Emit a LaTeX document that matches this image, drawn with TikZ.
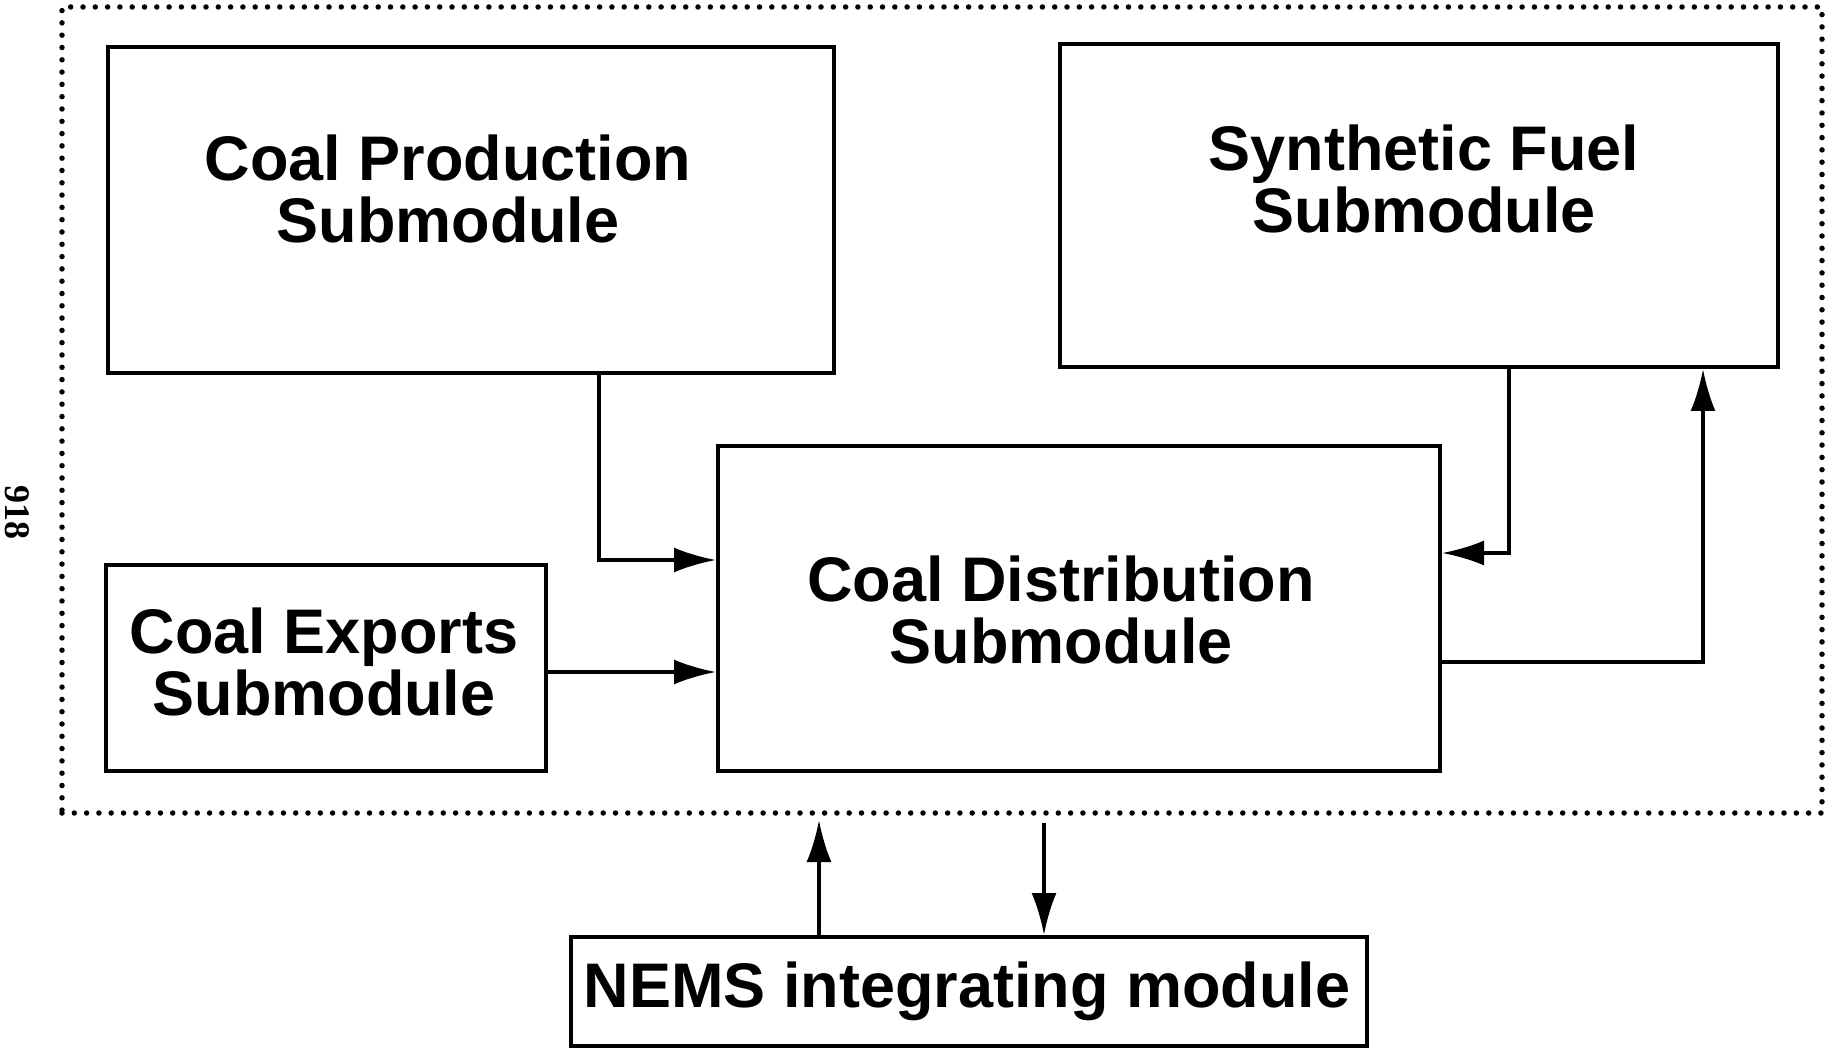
\documentclass[tikz,border=0pt]{standalone}
\usepackage{fontspec}
\setmainfont{Liberation Sans}
\newfontfamily\pagenumfont{Liberation Serif}
\usetikzlibrary{arrows.meta}
\begin{document}
\begin{tikzpicture}[x=1pt,y=-1pt,
  box/.style={draw, line width=4pt, inner sep=0pt},
  lbl/.style={font=\fontsize{63}{62}\selectfont\bfseries, align=center, inner sep=0pt},
  conn/.style={line width=3.5pt},
  arr/.style={conn, -{Latex[length=42pt,width=25pt]}},
  dotframe/.style={draw, line width=5.5pt, line cap=round, dash pattern=on 0pt off 12.3pt, inner sep=0pt}]
\useasboundingbox (0,0) rectangle (1826,1048);
% outer dotted frame
\node[dotframe, minimum width=1760pt, minimum height=806pt] (frame) at (942,410) {};
% page number
\node[font=\pagenumfont\bfseries\fontsize{36}{36}\selectfont, rotate=-90, inner sep=0pt] (pagenum) at (17,512) {918};
% boxes
\node[box, minimum width=726pt, minimum height=326pt] (prod) at (471,210) {};
\node[box, minimum width=718pt, minimum height=323pt] (syn) at (1419,205.5) {};
\node[box, minimum width=722pt, minimum height=325pt] (dist) at (1079,608.5) {};
\node[box, minimum width=440pt, minimum height=206pt] (exp) at (326,668) {};
\node[box, minimum width=796pt, minimum height=109pt] (nems) at (969,991.5) {};
% labels
\node[lbl] (prodt) at (448,188.5) {Coal Production\\Submodule};
\node[lbl] (synt) at (1424,178.5) {Synthetic Fuel\\Submodule};
\node[lbl] (distt) at (1061,610) {Coal Distribution\\Submodule};
\node[lbl] (expt) at (324,661.5) {Coal Exports\\Submodule};
\node[lbl, anchor=base] (nemst) at (967,1007) {NEMS integrating module};
% connectors
\coordinate (c1) at (599,560);
\coordinate (c2) at (0,672);
\coordinate (c3) at (1509,553);
\coordinate (c4) at (1703,662);
\coordinate (c5) at (819,820);
\coordinate (c6) at (1044,823);
\draw[arr] (prod.south -| c1) |- (dist.west |- c1);
\draw[arr] (exp.east |- c2) -- (dist.west |- c2);
\draw[arr] (syn.south -| c3) |- (dist.east |- c3);
\draw[arr] (dist.east |- c4) -| (syn.south -| c4);
\draw[arr] (nems.north -| c5) -- (c5);
\draw[arr] (c6) -- (nems.north -| c6);
\end{tikzpicture}
\end{document}
